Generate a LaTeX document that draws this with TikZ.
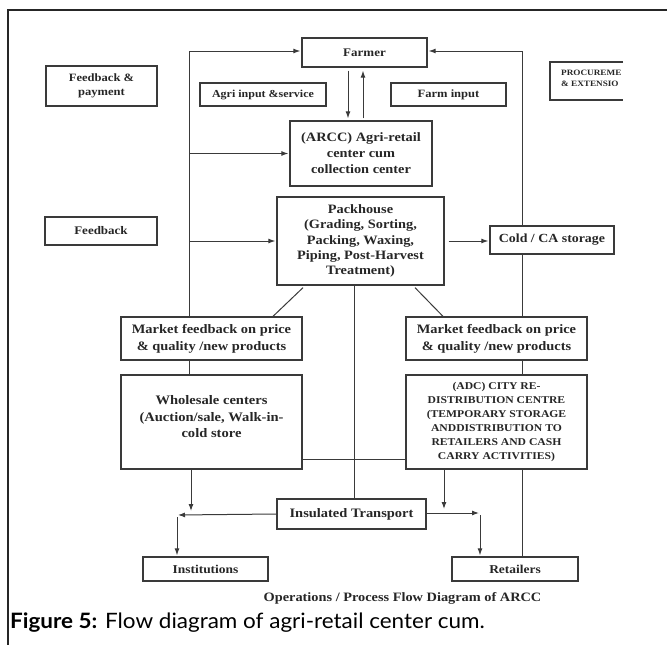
\documentclass[tikz,border=0pt]{standalone}
\usepackage{fontspec}
\setmainfont{Liberation Serif}[FakeStretch=1.12]
\newfontfamily\capfont{Lato}[FakeStretch=1.06]
\usepackage{tikz}
\usetikzlibrary{arrows.meta, calc}
\definecolor{inkgray}{HTML}{3A3A3A}
\definecolor{textgray}{HTML}{262626}
\newcommand{\boxfont}[2]{\fontsize{#1}{#2}\selectfont\bfseries}
\tikzstyle{block}=[draw=inkgray, line width=1.3pt, align=center, text=textgray, inner sep=1pt]
\tikzstyle{line}=[draw=inkgray, line width=1pt]
\tikzstyle{arrow}=[line, -{Latex[length=7pt, width=5pt]}, shorten >=1pt]

\begin{document}
\begin{tikzpicture}[x=1pt, y=-1pt]
      \useasboundingbox (0,0) rectangle (667,645);
      \draw[line width=1.5pt, black!85] (8,645) -- (8,10) -- (667,10);

      \node[block, minimum width=125pt, minimum height=29pt, font=\boxfont{11.6}{14}] (farmer) at (364.5,52.5) {Farmer};
      \node[block, minimum width=111pt, minimum height=40pt, font=\boxfont{11.2}{14}] (feedpay) at (101.5,86) {Feedback \&\\payment};
      \node[block, minimum width=126pt, minimum height=23pt, font=\boxfont{10.7}{13}] (agriinput) at (263,94.5) {Agri input \&service};
      \node[block, minimum width=115pt, minimum height=23pt, font=\boxfont{11.2}{13}] (farminput) at (448.5,94.5) {Farm input};
      \node[align=left, anchor=west, inner sep=0pt, text=textgray, font=\boxfont{8.2}{11}] (procure) at (561,78) {PROCUREME\\\& EXTENSIO};
      \node[block, minimum width=142pt, minimum height=65pt, font=\boxfont{12.8}{16}] (arcc) at (361,153.5) {(ARCC) Agri-retail\\center cum\\collection center};
      \node[block, minimum width=112pt, minimum height=28pt, font=\boxfont{11.6}{14}] (feedback) at (101,231) {Feedback};
      \node[block, minimum width=167pt, minimum height=88pt, font=\boxfont{12.8}{15.3}] (pack) at (360.5,241) {Packhouse\\(Grading, Sorting,\\Packing, Waxing,\\Piping, Post-Harvest\\Treatment)};
      \node[block, minimum width=124pt, minimum height=28pt, font=\boxfont{12.4}{14}] (cold) at (552,240) {Cold / CA storage};
      \node[block, minimum width=181pt, minimum height=43pt, font=\boxfont{12.9}{17}] (mfl) at (211.5,338.5) {Market feedback on price\\\& quality /new products};
      \node[block, minimum width=181pt, minimum height=43pt, font=\boxfont{12.9}{17}] (mfr) at (496.5,338.5) {Market feedback on price\\\& quality /new products};
      \node[block, minimum width=181pt, minimum height=94pt] (whole) at (211.5,422) {};
      \node[align=center, text=textgray, font=\boxfont{13}{16.5}] (wholetext) at (211.5,417) {Wholesale centers\\(Auction/sale, Walk-in-\\cold store};
      \node[block, minimum width=181pt, minimum height=94pt, font=\boxfont{10.4}{14}] (adc) at (496.5,422) {(ADC) CITY RE-\\DISTRIBUTION CENTRE\\(TEMPORARY STORAGE\\ANDDISTRIBUTION TO\\RETAILERS AND CASH\\CARRY ACTIVITIES)};
      \node[block, minimum width=149pt, minimum height=30pt, font=\boxfont{12.9}{15}] (trans) at (351.5,514) {Insulated Transport};
      \node[block, minimum width=125pt, minimum height=24pt, font=\boxfont{12}{14}] (inst) at (205.5,569) {Institutions};
      \node[block, minimum width=126pt, minimum height=24pt, font=\boxfont{12}{14}] (retail) at (515,569) {Retailers};

      \node[anchor=base, inner sep=0pt, text=textgray, font=\boxfont{12.8}{15}] (title) at (402.5,601) {Operations / Process Flow Diagram of ARCC};
      \node[anchor=base west, inner sep=0pt, font=\capfont\fontsize{21.2}{25}\selectfont] (caption) at (10,628) {\textbf{Figure 5:} Flow diagram of agri-retail center cum.};

      % open box on the right
      \draw[inkgray, line width=1.3pt] (623,62) -- (550,62) -- (550,100) -- (623,100);

      \coordinate (lefttop) at (189,51);
      \coordinate (righttop) at (522,51);
      \coordinate (downx) at (348,0);
      \coordinate (upx) at (363,0);
      \coordinate (midx) at (354,0);
      \coordinate (wdown) at (191,512);
      \coordinate (adown) at (444,510);
      \coordinate (jl) at (177,515);
      \coordinate (jr) at (480,513);

      % left trunk
      \draw[line] (lefttop) -- (lefttop |- mfl.north);
      \draw[line] (lefttop |- mfl.south) -- (lefttop |- whole.north);
      \draw[arrow] (lefttop) -- (lefttop -| farmer.west);
      \foreach \n in {arcc, pack}{
        \draw[arrow] (lefttop |- \n.west) -- (\n.west);
      }

      % right trunk
      \draw[line] (righttop) -- (righttop |- cold.north);
      \foreach \a/\b in {cold/mfr, mfr/adc, adc/retail}{
        \draw[line] (righttop |- \a.south) -- (righttop |- \b.north);
      }
      \draw[arrow] (righttop) -- (righttop -| farmer.east);

      \draw[arrow, shorten <=3pt, shorten >=2pt] (farmer.south -| downx) -- (arcc.north -| downx);
      \draw[arrow, shorten <=2pt, shorten >=3pt] (arcc.north -| upx) -- (farmer.south -| upx);
      \draw[arrow, shorten <=4pt] (pack.east) -- (pack.east -| cold.west);
      \draw[line] ([xshift=-57.5pt, yshift=-2pt]pack.south) -- ([xshift=61.5pt]mfl.north);
      \draw[line] ([xshift=54.5pt, yshift=-2pt]pack.south) -- ([xshift=-53.5pt]mfr.north);
      \draw[line] (pack.south -| midx) -- (trans.north -| midx);
      \draw[line] ([yshift=-37pt]whole.east) -- ([yshift=-37pt]whole.east -| adc.west);

      \draw[arrow] (whole.south -| wdown) -- (wdown);
      \draw[arrow] (adc.south -| adown) -- (adown);
      \draw[arrow] (trans.west) -- (jl);
      \draw[arrow] ([yshift=-2pt]jl) -- (jl |- inst.north);
      \draw[arrow] (trans.east |- jr) -- (jr);
      \draw[arrow] ([yshift=-2pt]jr) -- (jr |- retail.north);
\end{tikzpicture}
\end{document}
